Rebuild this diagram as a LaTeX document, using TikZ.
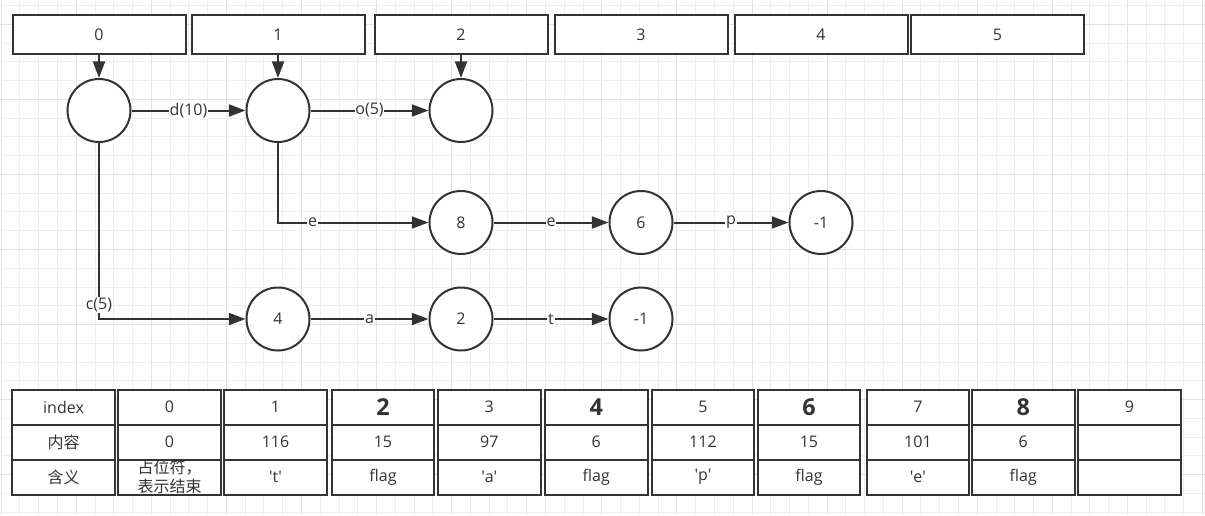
\documentclass[tikz,border=0pt]{standalone}
\usepackage{fontspec}
\setmainfont{Open Sans}
\newfontfamily\cjk{Noto Sans CJK SC}
\usetikzlibrary{arrows.meta}
\definecolor{ink}{HTML}{333333}
\definecolor{gridminor}{HTML}{EEEEEE}
\definecolor{gridmajor}{HTML}{E2E2E2}
\begin{document}
\begin{tikzpicture}[x=0.75pt,y=-0.75pt,
  every node/.style={font=\fontsize{12}{14}\selectfont, text=ink},
  topbox/.style={draw=ink, line width=1.5pt, fill=white, minimum width=129.75pt, minimum height=29.25pt, inner sep=0pt},
  circ/.style={circle, draw=ink, line width=1.5pt, fill=white, minimum size=47.25pt, inner sep=0pt},
  cell/.style={draw=ink, line width=1.5pt, fill=white, minimum width=76.9pt, minimum height=26.25pt, inner sep=0pt, align=center},
  arr/.style={draw=ink, line width=1.5pt, -{Triangle[length=12.5pt,width=9pt]}},
  lbl/.style={fill=white, inner sep=0.6pt},
  big/.style={font=\fontsize{17.5}{19}\selectfont\bfseries},
  zh/.style={font=\cjk\fontsize{12}{14.25}\selectfont}
]
\useasboundingbox (0,0) rectangle (1205,515);
\fill[white] (0,0) rectangle (1205,515);
% grid
\foreach \i in {0,...,64}{
  \pgfmathtruncatemacro\m{mod(\i,4)}
  \ifnum\m=0 \def\gc{gridmajor}\else\def\gc{gridminor}\fi
  \draw[\gc, line width=0.75pt] ({1.2+18.77*\i},0) -- ({1.2+18.77*\i},515);
}
\foreach \i in {0,...,27}{
  \pgfmathtruncatemacro\m{mod(\i,4)}
  \ifnum\m=1 \def\gc{gridmajor}\else\def\gc{gridminor}\fi
  \draw[\gc, line width=0.75pt] (0,{5.5+18.77*\i}) -- (1205,{5.5+18.77*\i});
}
% top boxes
\node[topbox] (b0) at (99,34.5) {0};
\node[topbox] (b1) at (278,34.5) {1};
\node[topbox] (b2) at (461,34.5) {2};
\node[topbox] (b3) at (641,34.5) {3};
\node[topbox] (b4) at (821,34.5) {4};
\node[topbox] (b5) at (997.5,34.5) {5};
% circles
\node[circ] (c0) at (99,110.5) {};
\node[circ] (c1) at (278,110.5) {};
\node[circ] (c2) at (461,110.5) {};
\node[circ] (n8) at (461,222.5) {8};
\node[circ] (n6) at (641,222.5) {6};
\node[circ] (m1) at (821,222.5) {-1};
\node[circ] (n4) at (278,319) {4};
\node[circ] (n2) at (461,319) {2};
\node[circ] (m2) at (641,319) {-1};
% edges
\draw[arr] (b0.south) -- (c0.north);
\draw[arr] (b1.south) -- (c1.north);
\draw[arr] (b2.south) -- (c2.north);
\draw[arr] (c0) -- node[lbl]{d(10)} (c1);
\draw[arr] (c1) -- node[lbl]{o(5)} (c2);
\draw[arr] (c1.south) |- node[lbl,pos=0.615]{e} (n8.west);
\draw[arr] (n8) -- node[lbl]{e} (n6);
\draw[arr] (n6) -- node[lbl]{p} (m1);
\draw[arr] (c0.south) |- node[lbl,pos=0.46]{c(5)} (n4.west);
\draw[arr] (n4) -- node[lbl]{a} (n2);
\draw[arr] (n2) -- node[lbl]{t} (m2);
% table row 0
\node[cell] (r0c0) at (63.55,407) {index};
\node[cell] (r0c1) at (169.55,407) {0};
\node[cell] (r0c2) at (275.55,407) {1};
\node[cell,big] (r0c3) at (382.95,407) {2};
\node[cell] (r0c4) at (489.25,407) {3};
\node[cell,big] (r0c5) at (596.25,407) {4};
\node[cell] (r0c6) at (702.95,407) {5};
\node[cell,big] (r0c7) at (808.95,407) {6};
\node[cell] (r0c8) at (917.95,407) {7};
\node[cell,big] (r0c9) at (1023.25,407) {8};
\node[cell] (r0c10) at (1129.55,407) {9};
% table row 1
\node[cell,zh] (r1c0) at (63.55,442) {内容};
\node[cell] (r1c1) at (169.55,442) {0};
\node[cell] (r1c2) at (275.55,442) {116};
\node[cell] (r1c3) at (382.95,442) {15};
\node[cell] (r1c4) at (489.25,442) {97};
\node[cell] (r1c5) at (596.25,442) {6};
\node[cell] (r1c6) at (702.95,442) {112};
\node[cell] (r1c7) at (808.95,442) {15};
\node[cell] (r1c8) at (917.95,442) {101};
\node[cell] (r1c9) at (1023.25,442) {6};
\node[cell] (r1c10) at (1129.55,442) {};
% table row 2
\node[cell,zh] (r2c0) at (63.55,477) {含义};
\node[cell] (r2c1) at (169.55,477) {};
\node[zh, align=center, inner sep=0pt] (r2c1t) at (r2c1) {占位符，\\表示结束};
\node[cell] (r2c2) at (275.55,477) {\textquotesingle t\textquotesingle};
\node[cell] (r2c3) at (382.95,477) {flag};
\node[cell] (r2c4) at (489.25,477) {\textquotesingle a\textquotesingle};
\node[cell] (r2c5) at (596.25,477) {flag};
\node[cell] (r2c6) at (702.95,477) {\textquotesingle p\textquotesingle};
\node[cell] (r2c7) at (808.95,477) {flag};
\node[cell] (r2c8) at (917.95,477) {\textquotesingle e\textquotesingle};
\node[cell] (r2c9) at (1023.25,477) {flag};
\node[cell] (r2c10) at (1129.55,477) {};
\end{tikzpicture}
\end{document}
